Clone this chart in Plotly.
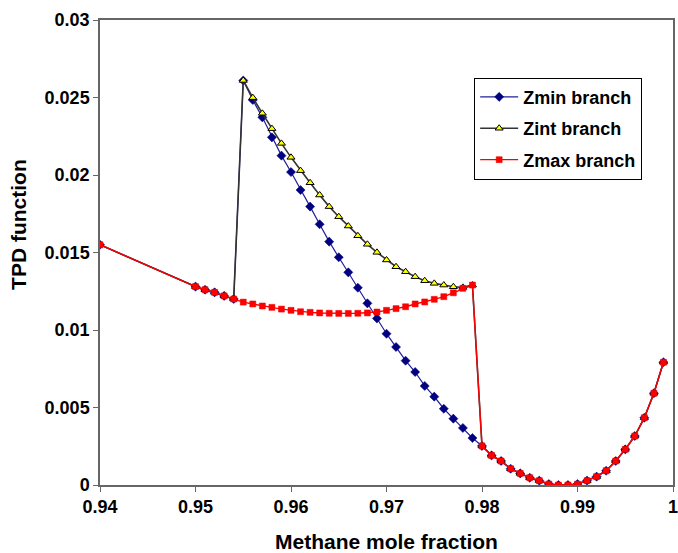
import plotly.graph_objects as go

# Methane mole fraction grid
methane = [0.940, 0.950, 0.951, 0.952, 0.953, 0.954, 0.955, 0.956, 0.957, 0.958,
           0.959, 0.960, 0.961, 0.962, 0.963, 0.964, 0.965, 0.966, 0.967, 0.968,
           0.969, 0.970, 0.971, 0.972, 0.973, 0.974, 0.975, 0.976, 0.977, 0.978,
           0.979, 0.980, 0.981, 0.982, 0.983, 0.984, 0.985, 0.986, 0.987, 0.988,
           0.989, 0.990, 0.991, 0.992, 0.993, 0.994, 0.995, 0.996, 0.997, 0.998,
           0.999]

# TPD values on each compressibility-factor branch
tpd_zmin = [0.0155, 0.0128, 0.0126, 0.01243, 0.0122, 0.0120, 0.0261, 0.02484, 0.02372, 0.02243,
            0.02125, 0.02019, 0.01903, 0.01796, 0.01682, 0.0157, 0.01469, 0.01372, 0.01273, 0.01172,
            0.01075, 0.00976, 0.0089, 0.00802, 0.00729, 0.00639, 0.0057, 0.00492, 0.00428, 0.00368,
            0.00303, 0.00252, 0.00191, 0.00155, 0.00105, 0.00075, 0.00047, 0.00028, 0.00006, 0.0,
            0.0, 0.00006, 0.00028, 0.00054, 0.00092, 0.00155, 0.0023, 0.00316, 0.00434, 0.00592,
            0.00792]

tpd_zint = [0.0155, 0.0128, 0.0126, 0.01243, 0.0122, 0.0120, 0.0261, 0.02499, 0.02398, 0.02299,
            0.02204, 0.02114, 0.02028, 0.0195, 0.01871, 0.01796, 0.01731, 0.01671, 0.01608, 0.01553,
            0.01501, 0.01452, 0.01408, 0.01376, 0.01344, 0.01318, 0.01301, 0.0129, 0.01279, 0.01275,
            0.0129, 0.00252, 0.00191, 0.00155, 0.00105, 0.00075, 0.00047, 0.00028, 0.00006, 0.0,
            0.0, 0.00006, 0.00028, 0.00054, 0.00092, 0.00155, 0.0023, 0.00316, 0.00434, 0.00592,
            0.00792]

tpd_zmax = [0.0155, 0.0128, 0.0126, 0.01243, 0.0122, 0.0120, 0.0118, 0.01168, 0.01155, 0.01146,
            0.01135, 0.01127, 0.01118, 0.01114, 0.0111, 0.01108, 0.01107, 0.01107, 0.01108, 0.0111,
            0.01116, 0.01127, 0.01138, 0.0115, 0.01168, 0.01181, 0.01198, 0.01215, 0.0124, 0.01269,
            0.0129, 0.00252, 0.00191, 0.00155, 0.00105, 0.00075, 0.00047, 0.00028, 0.00006, 0.0,
            0.0, 0.00006, 0.00028, 0.00054, 0.00092, 0.00155, 0.0023, 0.00316, 0.00434, 0.00592,
            0.00792]

series_names = ["Zmin branch", "Zint branch", "Zmax branch"]

x_ticks = [0.94, 0.95, 0.96, 0.97, 0.98, 0.99, 1.0]
x_tick_text = ["0.94", "0.95", "0.96", "0.97", "0.98", "0.99", "1"]
y_ticks = [0, 0.005, 0.01, 0.015, 0.02, 0.025, 0.03]
y_tick_text = ["0", "0.005", "0.01", "0.015", "0.02", "0.025", "0.03"]

FONT = "Liberation Sans, Arial, sans-serif"

fig = go.Figure()

fig.add_trace(go.Scatter(
    x=methane, y=tpd_zmin, name=series_names[0], legendgroup="a",
    mode="lines+markers",
    line=dict(color="#20209a", width=1.2),
    marker=dict(symbol="diamond", size=7, color="#000080",
                line=dict(color="#000080", width=0.5)),
))
fig.add_trace(go.Scatter(
    x=methane, y=tpd_zint, name=series_names[1], legendgroup="b",
    mode="lines+markers",
    line=dict(color="#333333", width=1.6),
    marker=dict(symbol="triangle-up", size=7, color="#ffff00",
                line=dict(color="#000000", width=1)),
))
fig.add_trace(go.Scatter(
    x=methane, y=tpd_zmax, name=series_names[2], legendgroup="c",
    mode="lines+markers",
    line=dict(color="#ff0000", width=1.4),
    marker=dict(symbol="square", size=6, color="#ff0000",
                line=dict(color="#ee0000", width=0.5)),
))

axis_common = dict(
    showgrid=False, zeroline=False, automargin=False,
    showline=True, linecolor="#666666", linewidth=1.5, mirror=True,
    ticks="outside", ticklen=5, tickwidth=1.2, tickcolor="#666666",
    ticklabeloverflow="allow",
    tickfont=dict(family=FONT, size=18, color="#000000", weight="bold"),
)

fig.update_xaxes(range=[0.94, 1.0], tickvals=x_ticks, ticktext=x_tick_text, **axis_common)
fig.update_yaxes(range=[0, 0.03], tickvals=y_ticks, ticktext=y_tick_text, **axis_common)

fig.add_annotation(
    text="Methane mole fraction", xref="paper", yref="paper",
    x=0.5, y=-0.122, xanchor="center", yanchor="middle", showarrow=False,
    font=dict(family=FONT, size=21, color="#000000", weight="bold"),
)
fig.add_annotation(
    text="TPD function", xref="paper", yref="paper",
    x=-0.1435, y=0.561, xanchor="center", yanchor="middle", showarrow=False,
    textangle=-90,
    font=dict(family=FONT, size=21, color="#000000", weight="bold"),
)

fig.update_layout(
    width=678, height=553, autosize=False,
    margin=dict(l=100, r=5, t=20, b=68),
    paper_bgcolor="white", plot_bgcolor="white",
    legend=dict(
        x=0.653, y=0.876, xanchor="left", yanchor="top",
        bordercolor="#000000", borderwidth=1, bgcolor="white",
        font=dict(family=FONT, size=18, color="#000000", weight="bold"),
        tracegroupgap=5, traceorder="grouped", itemwidth=38,
        entrywidth=130, entrywidthmode="pixels",
    ),
)

fig.write_html("out.html")
